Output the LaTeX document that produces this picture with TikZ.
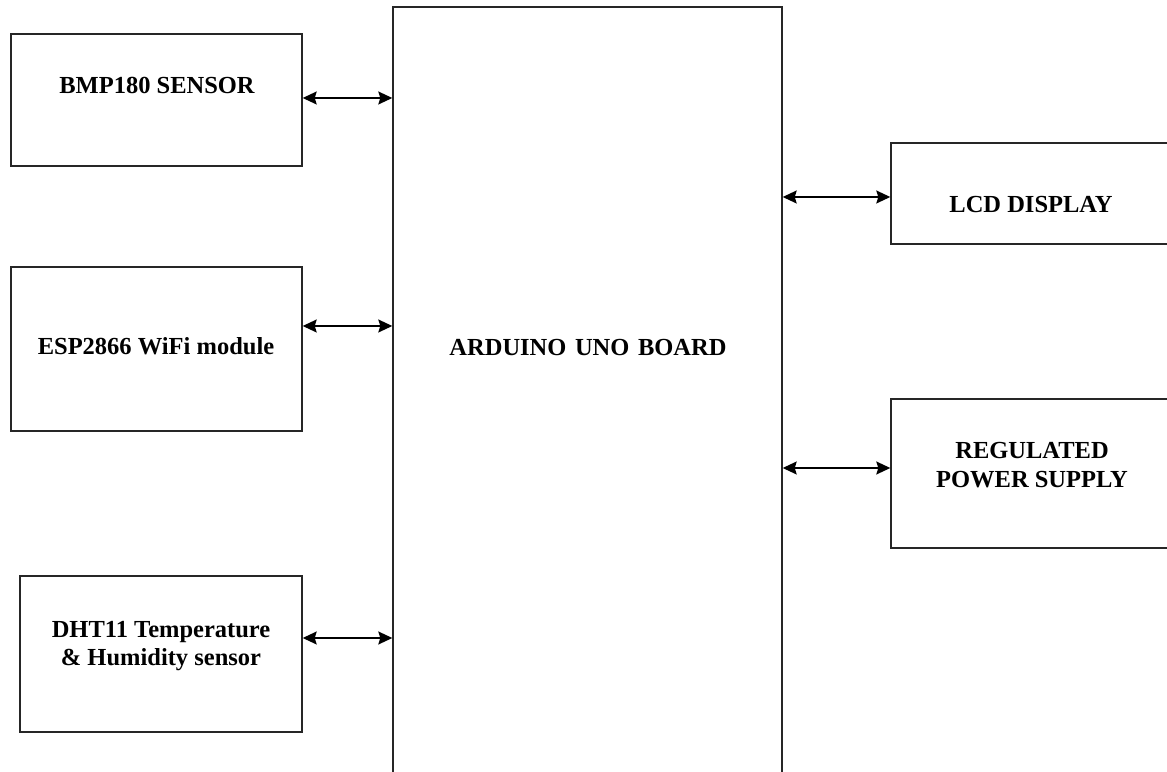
\documentclass[tikz,border=0pt]{standalone}
\usepackage{fontspec}
\setmainfont{Liberation Serif}
\usetikzlibrary{arrows.meta}
\begin{document}
\begin{tikzpicture}[x=1pt,y=1pt,
  blockbox/.style={draw=black!85,line width=1.4pt,minimum width=#1,inner sep=0pt},
  lbl/.style={font=\fontsize{24.5}{29}\selectfont\bfseries,anchor=base,inner sep=0pt},
  link/.style={line width=1.5pt,{Stealth[length=14pt,width=13pt,inset=2pt]}-{Stealth[length=14pt,width=13pt,inset=2pt]}}]
\useasboundingbox (0,0) rectangle (1167,771);
\clip (0,0) rectangle (1167,771);
% boxes
\node[blockbox=291pt,minimum height=132pt] (bmp) at (156.5,671) {};
\node[blockbox=291pt,minimum height=164pt] (esp) at (156.5,422) {};
\node[blockbox=282pt,minimum height=156pt] (dht) at (161,117) {};
\node[blockbox=389pt,minimum height=790pt] (ard) at (587.5,369) {};
\node[blockbox=289pt,minimum height=101pt] (lcd) at (1035.5,577.5) {};
\node[blockbox=289pt,minimum height=149pt] (reg) at (1035.5,297.5) {};
% labels
\node[lbl] (tbmp) at (157,677) {BMP180 SENSOR};
\node[lbl] (tesp) at (156,416) {ESP2866 WiFi module};
\node[lbl] (tdht1) at (161,133) {DHT11 Temperature};
\node[lbl] (tdht2) at (161,105) {\& Humidity sensor};
\node[lbl] (tard) at (588,415) {ARDUINO\hspace{0.35em}UNO\hspace{0.35em}BOARD};
\node[lbl] (tlcd) at (1031,558) {LCD DISPLAY};
\node[lbl] (treg1) at (1032,312) {REGULATED};
\node[lbl] (treg2) at (1032,283) {POWER SUPPLY};
% connectors
\coordinate (y1) at (0,673);
\coordinate (y2) at (0,445);
\coordinate (y3) at (0,133);
\coordinate (y4) at (0,574);
\coordinate (y5) at (0,303);
\draw[link] (bmp.east |- y1) -- (ard.west |- y1);
\draw[link] (esp.east |- y2) -- (ard.west |- y2);
\draw[link] (dht.east |- y3) -- (ard.west |- y3);
\draw[link] (ard.east |- y4) -- (lcd.west |- y4);
\draw[link] (ard.east |- y5) -- (reg.west |- y5);
\end{tikzpicture}
\end{document}
